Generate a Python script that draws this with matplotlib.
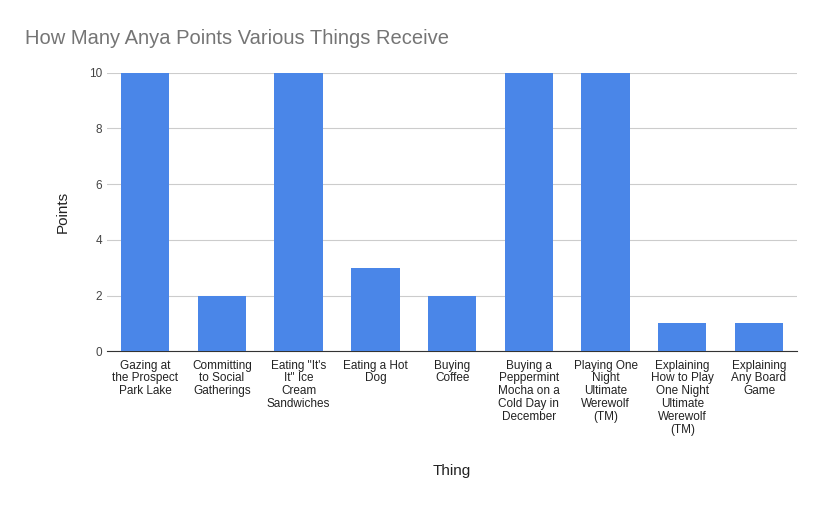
import matplotlib.pyplot as plt

plt.rcParams["font.family"] = ["Liberation Sans", "DejaVu Sans"]

things = [
    "Gazing at\nthe Prospect\nPark Lake",
    "Committing\nto Social\nGatherings",
    "Eating \"It's\nIt\" Ice\nCream\nSandwiches",
    "Eating a Hot\nDog",
    "Buying\nCoffee",
    "Buying a\nPeppermint\nMocha on a\nCold Day in\nDecember",
    "Playing One\nNight\nUltimate\nWerewolf\n(TM)",
    "Explaining\nHow to Play\nOne Night\nUltimate\nWerewolf\n(TM)",
    "Explaining\nAny Board\nGame",
]
points = [10, 2, 10, 3, 2, 10, 10, 1, 1]

fig = plt.figure(figsize=(8.22, 5.09), dpi=100)
ax = fig.add_axes([0.130, 0.310, 0.840, 0.547])

ax.bar(range(len(things)), points, width=0.63, color="#4a86e8", zorder=3)
ax.set_xlim(-0.5, len(things) - 0.5)
ax.set_ylim(0, 10)
ax.set_yticks(range(0, 11, 2))
ax.grid(axis="y", color="#cccccc", linewidth=0.8, zorder=0)
ax.set_xticks(range(len(things)))
ax.set_xticklabels(things, fontsize=8.5, color="#222222", linespacing=1.1, va="top")
ax.tick_params(axis="both", length=0, labelsize=8.5, colors="#444444")
ax.tick_params(axis="x", pad=6, colors="#222222")
for s in ["top", "right", "left"]:
    ax.spines[s].set_visible(False)
ax.spines["bottom"].set_color("#333333")

ax.set_ylabel("Points", fontsize=11, color="#222222", labelpad=14)
ax.set_xlabel("Thing", fontsize=11, color="#222222", labelpad=20)
fig.text(0.030, 0.925, "How Many Anya Points Various Things Receive",
         fontsize=14.5, color="#757575", va="center")

fig.savefig("out.png", dpi=100)
